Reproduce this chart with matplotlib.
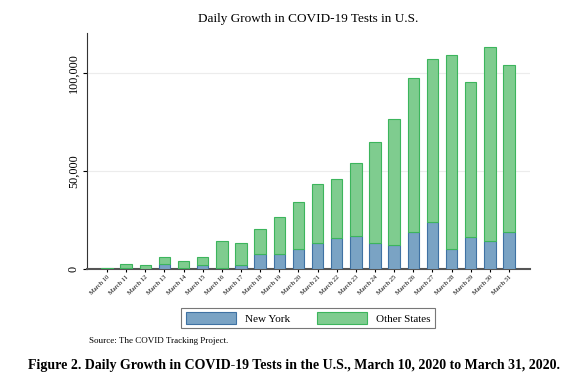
import numpy as np
import matplotlib.pyplot as plt
from matplotlib.ticker import FuncFormatter

plt.rcParams['font.family'] = ['Liberation Serif', 'DejaVu Serif']

days = ['March 10', 'March 11', 'March 12', 'March 13', 'March 14', 'March 15',
        'March 16', 'March 17', 'March 18', 'March 19', 'March 20', 'March 21',
        'March 22', 'March 23', 'March 24', 'March 25', 'March 26', 'March 27',
        'March 28', 'March 29', 'March 30', 'March 31']
new_york = [100, 200, 100, 2700, 200, 1700, 400, 1700, 7300, 7600, 10000, 13000,
            15900, 16900, 13000, 12200, 18600, 23700, 10200, 16300, 14200, 18600]
total = [600, 2200, 1900, 5900, 3900, 5900, 14200, 13000, 20500, 26600, 34000, 43300,
         45900, 54000, 64800, 76500, 97500, 106800, 108800, 95300, 113200, 103700]
other_states = [t - n for t, n in zip(total, new_york)]

fig = plt.figure(figsize=(5.85, 3.84), dpi=100)
ax = fig.add_axes([0.148, 0.30, 0.758, 0.613])

x = np.arange(len(days))
ax.bar(x, new_york, width=0.6, color='#7aa3c4', edgecolor='#3f72a3', linewidth=0.8,
       label='New York', zorder=3)
ax.bar(x, other_states, width=0.6, bottom=new_york, color='#7fcc8f', edgecolor='#3cb55c',
       linewidth=0.8, label='Other States', zorder=3)

ax.set_xlim(-1.07, len(days) - 1 + 1.1)
ax.set_ylim(0, 120000)
ax.set_yticks([0, 50000, 100000])
ax.yaxis.set_major_formatter(FuncFormatter(lambda v, p: f'{int(v):,}'))
ax.grid(axis='y', color='#ececec', linewidth=0.8, zorder=0)
ax.set_xticks(x)
ax.set_xticklabels(days, rotation=45, ha='right', rotation_mode='anchor', fontsize=4.7)
for lab in ax.get_yticklabels():
    lab.set_rotation(90)
    lab.set_va('center')
ax.tick_params(axis='y', labelsize=8.7, length=3, pad=2)
ax.tick_params(axis='x', length=2, pad=2)

for s in ['top', 'right']:
    ax.spines[s].set_visible(False)
ax.spines['left'].set_color('#333333')
ax.spines['left'].set_linewidth(0.8)
ax.spines['bottom'].set_color('#555555')
ax.spines['bottom'].set_linewidth(1.5)

ax.set_title('Daily Growth in COVID-19 Tests in U.S.', fontsize=9.5, pad=8)

leg = fig.legend(loc='center', bbox_to_anchor=(0.527, 0.172), ncol=2, fontsize=8,
                 handlelength=4.5, handleheight=1.2, columnspacing=2.5,
                 fancybox=False, edgecolor='#555555', borderpad=0.4)
leg.get_frame().set_linewidth(0.8)

fig.text(0.152, 0.107, 'Source: The COVID Tracking Project.', fontsize=6.5)
fig.text(0.503, 0.047, 'Figure 2. Daily Growth in COVID-19 Tests in the U.S., March 10, 2020 to March 31, 2020.',
         fontsize=10, fontweight='bold', ha='center', va='center')

fig.savefig('out.png', dpi=100)
